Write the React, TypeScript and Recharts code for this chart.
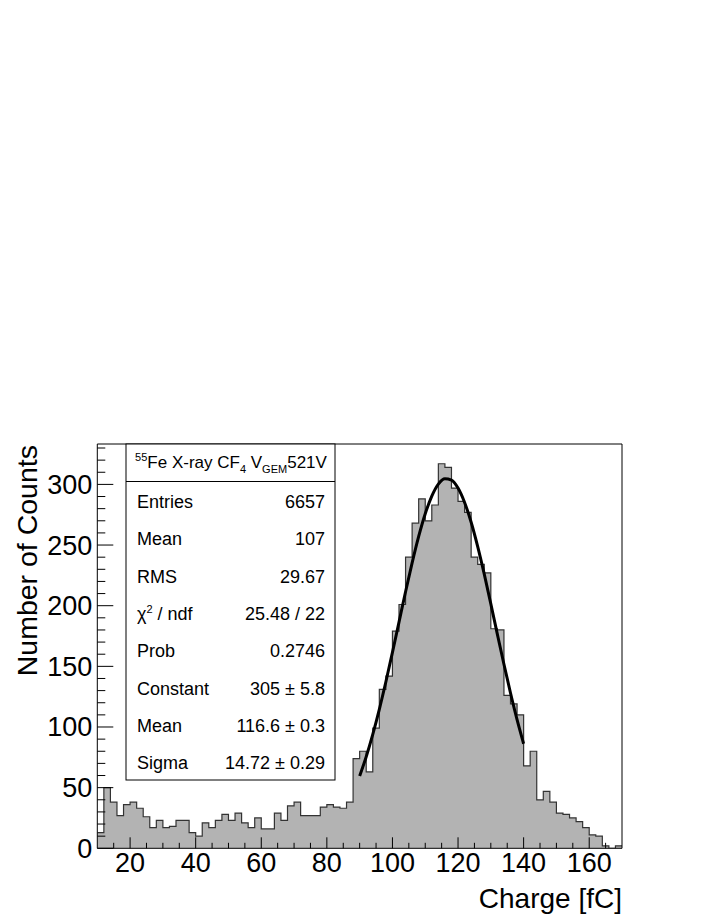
import {
    Area,
    ComposedChart,
    Line,
    ReferenceLine,
    XAxis,
    YAxis,
} from "recharts";

// histogram: 2 fC bins from 10 to 170 fC
const BIN_START = 10;
const BIN_WIDTH = 2;
const counts = [
    13, 50, 38, 27, 36, 38, 33, 26, 17, 23,
    17, 18, 23, 23, 13, 10, 21, 17, 23, 28,
    23, 29, 21, 17, 25, 16, 16, 29, 23, 35,
    38, 27, 27, 27, 34, 36, 34, 33, 38, 74,
    80, 63, 99, 131, 142, 179, 201, 240, 268, 288,
    270, 283, 317, 314, 297, 286, 277, 240, 234, 227,
    181, 180, 126, 119, 110, 68, 80, 40, 47, 38,
    29, 28, 25, 22, 17, 11, 10, 2, 0, 2,
];

// gaussian fit curve, 90 to 140 fC
const fitX = [
    90, 92, 94, 96, 98, 100, 102, 104, 106, 108, 110, 112, 114,
    116, 118, 120, 122, 124, 126, 128, 130, 132, 134, 136, 138, 140,
];
const fitY = [
    59.6, 75.5, 93.9, 114.6, 137.3, 161.5, 186.5, 211.5, 235.3, 257.1, 275.8, 290.4, 300.3,
    304.7, 303.6, 297.0, 285.1, 268.8, 248.7, 226.0, 201.5, 176.4, 151.7, 128.0, 106.0, 86.2,
];

// major ticks get labels, the rest are minor
const xMajor = [20, 40, 60, 80, 100, 120, 140, 160];
const xTicks = [15, 20, 25, 30, 35, 40, 45, 50, 55, 60, 65, 70, 75, 80, 85, 90, 95, 100, 105, 110, 115, 120, 125, 130, 135, 140, 145, 150, 155, 160, 165];
const yMajor = [0, 50, 100, 150, 200, 250, 300];
const yTicks = [0, 10, 20, 30, 40, 50, 60, 70, 80, 90, 100, 110, 120, 130, 140, 150, 160, 170, 180, 190, 200, 210, 220, 230, 240, 250, 260, 270, 280, 290, 300, 310, 320, 330];

const title = { iso: "55", a: "Fe X-ray CF", sub: "4", b: " V", gem: "GEM", c: "521V" };
const statRows: [string, string][] = [
    ["Entries", "6657"],
    ["Mean", "107"],
    ["RMS", "29.67"],
    ["CHI", "25.48 / 22"],
    ["Prob", "0.2746"],
    ["Constant", "305 \u00b1 5.8"],
    ["Mean", "116.6 \u00b1 0.3"],
    ["Sigma", "14.72 \u00b1 0.29"],
];

const data = counts.map((c, i) => {
    const x = BIN_START + i * BIN_WIDTH;
    const k = fitX.indexOf(x);
    return { x, count: c, fit: k >= 0 ? fitY[k] : null };
});
data.push({ x: 170, count: counts[counts.length - 1], fit: null });

const FONT = "'Liberation Sans', Arial, sans-serif";

// ROOT style ticks: drawn inwards, labels only on the major ones
function XTick(props: any) {
    const { x, y, payload } = props;
    const major = xMajor.includes(payload.value);
    return (
        <g>
            <line x1={x} x2={x} y1={y} y2={y - (major ? 11 : 5.5)} stroke="#000" strokeWidth={1} />
            {major && (
                <text x={x} y={y + 23.5} textAnchor="middle" fontSize={27} fontFamily={FONT} fill="#000">
                    {payload.value}
                </text>
            )}
        </g>
    );
}

function YTick(props: any) {
    const { x, y, payload } = props;
    const major = yMajor.includes(payload.value);
    return (
        <g>
            <line x1={x} x2={x + (major ? 16 : 8)} y1={y} y2={y} stroke="#000" strokeWidth={1} />
            {major && (
                <text x={x - 5} y={y + 9.5} textAnchor="end" fontSize={27} fontFamily={FONT} fill="#000">
                    {payload.value}
                </text>
            )}
        </g>
    );
}

function StatBox() {
    const rowY = (i: number) => 508 + i * 37.3;
    return (
        <svg
            width={708}
            height={917}
            style={{ position: "absolute", left: 0, top: 0, pointerEvents: "none" }}
            fontFamily={FONT}
        >
            <rect x={126} y={444} width={209} height={336} fill="#fff" stroke="#000" strokeWidth={1} />
            <line x1={126} x2={335} y1={481.5} y2={481.5} stroke="#000" strokeWidth={1} />
            <text x={231} y={468} textAnchor="middle" fontSize={17}>
                <tspan fontSize={11} dy={-7}>{title.iso}</tspan>
                <tspan dy={7}>{title.a}</tspan>
                <tspan fontSize={11} dy={5}>{title.sub}</tspan>
                <tspan dy={-5}>{title.b}</tspan>
                <tspan fontSize={11} dy={5}>{title.gem}</tspan>
                <tspan dy={-5}>{title.c}</tspan>
            </text>
            {statRows.map(([name, val], i) => (
                <g key={i}>
                    {name === "CHI" ? (
                        <text x={137} y={rowY(i)} fontSize={18}>
                            <tspan>{"\u03c7"}</tspan>
                            <tspan fontSize={11} dy={-7}>2</tspan>
                            <tspan dy={7}>{" / ndf"}</tspan>
                        </text>
                    ) : (
                        <text x={137} y={rowY(i)} fontSize={18}>{name}</text>
                    )}
                    <text x={325} y={rowY(i)} fontSize={18} textAnchor="end">{val}</text>
                </g>
            ))}
            <text x={622} y={908} fontSize={28} textAnchor="end">Charge [fC]</text>
            <text x={37} y={445} fontSize={28.5} textAnchor="end" transform="rotate(-90 37 445)">
                Number of Counts
            </text>
        </svg>
    );
}

export default function App() {
    return (
        <div style={{ position: "absolute", left: 0, top: 0, width: 708, height: 917, background: "#fff" }}>
            <ComposedChart
                width={708}
                height={917}
                data={data}
                margin={{ top: 444, right: 86, bottom: 8.7, left: 7.3 }}
            >
                <XAxis
                    dataKey="x"
                    type="number"
                    domain={[10, 170]}
                    ticks={xTicks}
                    interval={0}
                    height={60}
                    tickLine={false}
                    tickSize={0}
                    tickMargin={0}
                    stroke="#000"
                    tick={<XTick />}
                    allowDataOverflow
                />
                <YAxis
                    type="number"
                    domain={[0, 333.3]}
                    ticks={yTicks}
                    interval={0}
                    width={90}
                    tickLine={false}
                    tickSize={0}
                    tickMargin={0}
                    stroke="#000"
                    tick={<YTick />}
                    allowDataOverflow
                />
                <Area
                    dataKey="count"
                    type="stepAfter"
                    fill="#b3b3b3"
                    fillOpacity={1}
                    stroke="#333"
                    strokeWidth={1.2}
                    isAnimationActive={false}
                />
                <Line
                    dataKey="fit"
                    type="monotone"
                    stroke="#000"
                    strokeWidth={3}
                    dot={false}
                    connectNulls={false}
                    isAnimationActive={false}
                />
                <ReferenceLine y={333.3} stroke="#000" strokeWidth={1} />
                <ReferenceLine x={170} stroke="#000" strokeWidth={1} />
            </ComposedChart>
            <StatBox />
        </div>
    );
}
